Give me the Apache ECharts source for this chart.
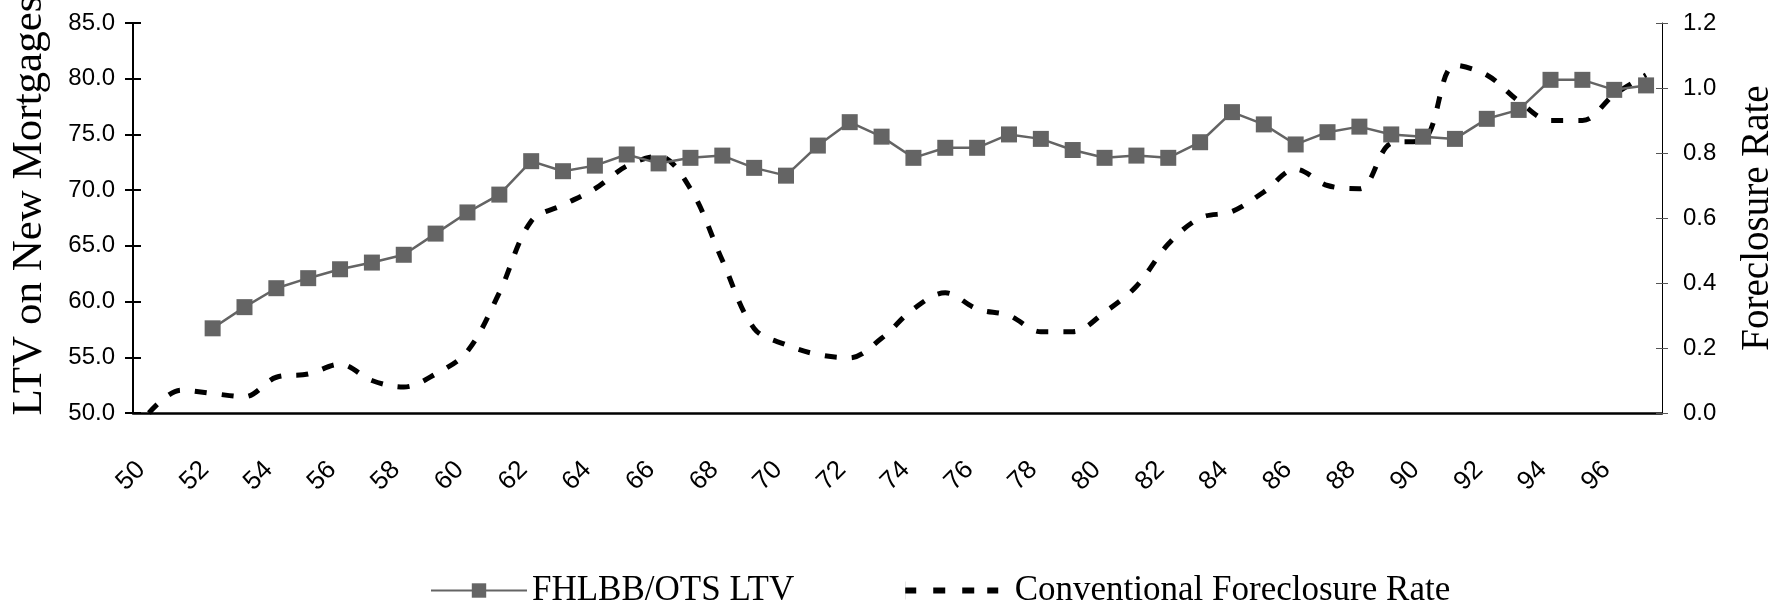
<!DOCTYPE html>
<html>
<head>
<meta charset="utf-8">
<script src="https://cdn.jsdelivr.net/npm/echarts@6/dist/echarts.min.js"></script>
<style>
  html, body { margin: 0; padding: 0; background: #fff; }
  #chart { width: 1784px; height: 608px; }
</style>
</head>
<body>
<div id="chart"></div>
<script>
// years (19xx)
const years = ['50', '51', '52', '53', '54', '55', '56', '57', '58', '59',
  '60', '61', '62', '63', '64', '65', '66', '67', '68', '69',
  '70', '71', '72', '73', '74', '75', '76', '77', '78', '79',
  '80', '81', '82', '83', '84', '85', '86', '87', '88', '89',
  '90', '91', '92', '93', '94', '95', '96', '97']

// FHLBB/OTS LTV (left axis)
const ltv = [null, null, 57.6, 59.5, 61.2, 62.1, 62.9, 63.5, 64.2, 66.1,
  68.0, 69.6, 72.6, 71.7, 72.2, 73.2, 72.4, 72.9, 73.1, 72.0,
  71.3, 74.0, 76.1, 74.8, 72.9, 73.8, 73.8, 75.0, 74.6, 73.6,
  72.9, 73.1, 72.9, 74.3, 77.0, 75.9, 74.1, 75.2, 75.7, 75.0,
  74.8, 74.6, 76.4, 77.2, 79.9, 79.9, 79.0, 79.4]

// Conventional foreclosure rate (right axis)
const foreclosure = [0.00, 0.07, 0.06, 0.05, 0.11, 0.12, 0.15, 0.10, 0.08, 0.12,
  0.19, 0.37, 0.59, 0.64, 0.69, 0.76, 0.79, 0.69, 0.47, 0.26,
  0.21, 0.18, 0.17, 0.23, 0.32, 0.37, 0.32, 0.30, 0.25, 0.25,
  0.31, 0.39, 0.52, 0.60, 0.62, 0.68, 0.75, 0.70, 0.69, 0.83,
  0.84, 1.07, 1.04, 0.96, 0.90, 0.90, 0.98, 1.04]

const sans = '"Liberation Sans", Arial, sans-serif'
const serif = '"Liberation Serif", "Times New Roman", serif'

const chart = echarts.init(document.getElementById('chart'))

const option = {
  animation: false,
  // fixed plot box; the left title is allowed to run off the top like the original
  grid: { left: 133, right: 122, top: 23, bottom: 195, outerBoundsMode: 'none' },
  legend: {
    left: 425,
    top: 568,
    itemWidth: 96,
    itemHeight: 18,
    itemGap: 111,
    textStyle: { fontFamily: serif, fontSize: 35, color: '#000' },
    data: [
      { name: 'FHLBB/OTS LTV' },
      {
        name: 'Conventional Foreclosure Rate',
        // four short dashes like the original key
        icon: 'path://M0,6h11v6h-11z M28,6h12v6h-12z M57,6h12v6h-12z M82,6h11v6h-11z M0,0h0.1v18h-0.1z',
        textStyle: { padding: [0, 0, 0, 10] }
      }
    ]
  },
  xAxis: [
    {
      type: 'category',
      data: years,
      boundaryGap: true,
      axisLine: { lineStyle: { color: '#000', width: 2.5 } },
      axisTick: { interval: 0, inside: false, length: 10, lineStyle: { color: '#000', width: 2.5 } },
      axisLabel: {
        interval: 1, rotate: 45, margin: 45, padding: [0, 11, 0, 0],
        fontFamily: sans, fontSize: 26, color: '#000'
      }
    },
    {
      // inside half of the crossing ticks
      type: 'category',
      data: years,
      position: 'bottom',
      boundaryGap: true,
      axisLine: { show: false },
      axisTick: { interval: 0, inside: true, length: 10, lineStyle: { color: '#000', width: 2.5 } },
      axisLabel: { show: false }
    }
  ],
  yAxis: [
    {
      type: 'value',
      min: 50, max: 85, interval: 5,
      position: 'left',
      name: 'LTV on New Mortgages',
      nameLocation: 'middle',
      nameGap: 82,
      nameTextStyle: { fontFamily: serif, fontSize: 43, color: '#000', padding: [0, 0, 0, 25] },
      axisLine: { show: true, lineStyle: { color: '#000', width: 2 } },
      axisTick: { show: true, length: 8, lineStyle: { color: '#000', width: 2 } },
      axisLabel: { margin: 18, fontFamily: sans, fontSize: 24, color: '#000', formatter: v => v.toFixed(1) },
      splitLine: { show: false }
    },
    {
      type: 'value',
      min: 0, max: 1.2, interval: 0.2,
      position: 'right',
      name: 'Foreclosure Rate',
      nameLocation: 'middle',
      nameGap: 76,
      nameTextStyle: { fontFamily: serif, fontSize: 39, color: '#000' },
      axisLine: { show: true, lineStyle: { color: '#000', width: 1 } },
      axisTick: { show: true, length: 6, lineStyle: { color: '#555', width: 1 } },
      axisLabel: { margin: 21, fontFamily: sans, fontSize: 24, color: '#000', formatter: v => v.toFixed(1) },
      splitLine: { show: false }
    },
    {
      type: 'value',
      min: 50, max: 85, interval: 5,
      position: 'left',
      axisLine: { show: false },
      axisTick: { show: true, inside: true, length: 8, lineStyle: { color: '#000', width: 2 } },
      axisLabel: { show: false },
      splitLine: { show: false }
    },
    {
      type: 'value',
      min: 0, max: 1.2, interval: 0.2,
      position: 'right',
      axisLine: { show: false },
      axisTick: { show: true, inside: true, length: 6, lineStyle: { color: '#555', width: 1 } },
      axisLabel: { show: false },
      splitLine: { show: false }
    }
  ],
  series: [
    {
      name: 'FHLBB/OTS LTV',
      type: 'line',
      yAxisIndex: 0,
      data: ltv,
      symbol: 'rect',
      symbolSize: 16,
      showAllSymbol: true,
      color: '#646464',
      lineStyle: { color: '#646464', width: 2.5 },
      itemStyle: { color: '#646464' },
      z: 3
    },
    {
      name: 'Conventional Foreclosure Rate',
      type: 'line',
      yAxisIndex: 1,
      data: foreclosure,
      smooth: 0.35,
      symbol: 'none',
      color: '#000',
      lineStyle: { color: '#000', width: 5, type: [12, 15] },
      z: 2
    }
  ]
}

chart.setOption(option)
</script>
</body>
</html>
